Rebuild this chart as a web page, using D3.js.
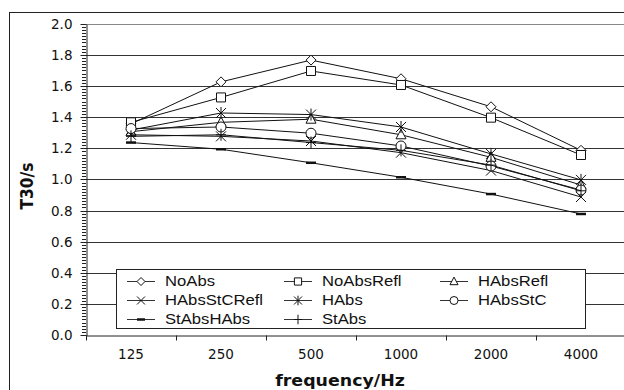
<!DOCTYPE html>
<html><head><meta charset="utf-8">
<script src="https://cdn.jsdelivr.net/npm/d3@7"></script>
<style>
html,body{margin:0;padding:0;background:#fff;}
svg{display:block;}
</style></head>
<body>
<svg id="chart" width="624" height="390"></svg>
<script>
// ---- data ----
const categories = ["125","250","500","1000","2000","4000"];
const seriesNames = ["NoAbs","NoAbsRefl","HAbsRefl","HAbsStCRefl","HAbs","HAbsStC","StAbsHAbs","StAbs"];
const NoAbs       = [1.36,1.63,1.77,1.65,1.47,1.19];
const NoAbsRefl   = [1.37,1.53,1.70,1.61,1.40,1.16];
const HAbsRefl    = [1.31,1.37,1.39,1.29,1.145,0.967];
const HAbsStCRefl = [1.29,1.28,1.25,1.175,1.06,0.89];
const HAbs        = [1.32,1.43,1.42,1.34,1.167,1.00];
const HAbsStC     = [1.33,1.34,1.30,1.218,1.089,0.935];
const StAbsHAbs   = [1.24,1.197,1.11,1.017,0.909,0.781];
const StAbs       = [1.28,1.29,1.24,1.19,1.095,0.93];
const yTicks = [0,0.2,0.4,0.6,0.8,1.0,1.2,1.4,1.6,1.8,2.0];
const xTitle = "frequency/Hz";
const yTitle = "T30/s";

const seriesValues = [NoAbs,NoAbsRefl,HAbsRefl,HAbsStCRefl,HAbs,HAbsStC,StAbsHAbs,StAbs];
const markerTypes = ["diamond","square","triangle","x","asterisk","circle","dash","plus"];

// ---- layout ----
const svg = d3.select("#chart");
const pLeft = 86, pRight = 626, pTop = 24.3, pBottom = 335.5;
const x = d3.scaleBand().domain(categories).range([pLeft, pRight]);
const y = d3.scaleLinear().domain([0, 2]).range([pBottom, pTop]);
const cx = c => x(c) + x.bandwidth() / 2;
const snap = v => Math.round(v - 0.5) + 0.5;

// outer border
svg.append("rect").attr("x", 9.5).attr("y", 12.5).attr("width", 700).attr("height", 500)
  .attr("fill", "none").attr("stroke", "#222").attr("stroke-width", 1);

// gridlines
svg.append("g").selectAll("line").data(yTicks.filter(d => d > 0)).join("line")
  .attr("x1", pLeft).attr("x2", pRight)
  .attr("y1", d => snap(y(d))).attr("y2", d => snap(y(d)))
  .attr("stroke", d => d === 2 ? "#888" : "#333").attr("stroke-width", 1);

// minor ticks on y axis
const minor = d3.range(0, 201, 2).map(d => d / 100);
svg.append("g").selectAll("line").data(minor).join("line")
  .attr("x1", pLeft - 4).attr("x2", pLeft)
  .attr("y1", d => snap(y(d))).attr("y2", d => snap(y(d)))
  .attr("stroke", "#222").attr("stroke-width", 1);

// y axis
const yAxis = svg.append("g").attr("transform", `translate(${snap(pLeft)},0)`)
  .call(d3.axisLeft(y).tickValues(yTicks).tickFormat(d3.format(".1f")).tickSize(6).tickPadding(8).tickSizeOuter(0));
yAxis.select(".domain").attr("stroke", "#222");
yAxis.selectAll(".tick line").attr("stroke", "#222");
yAxis.selectAll(".tick").attr("transform", d => `translate(0,${snap(y(d))})`);
yAxis.selectAll("text").attr("font-family", "DejaVu Sans").attr("font-size", 13.5).attr("fill", "#111");

// x axis
const xAxis = svg.append("g").attr("transform", `translate(0,${snap(pBottom)})`)
  .call(d3.axisBottom(x).tickSize(0).tickPadding(14).tickSizeOuter(0));
xAxis.select(".domain").attr("stroke", "#222");
xAxis.selectAll("text").attr("font-family", "DejaVu Sans").attr("font-size", 13.5).attr("fill", "#111");
// tick marks at category boundaries
svg.append("g").selectAll("line").data(categories).join("line")
  .attr("x1", d => snap(x(d))).attr("x2", d => snap(x(d)))
  .attr("y1", snap(pBottom)).attr("y2", snap(pBottom) + 5)
  .attr("stroke", "#222");

// axis titles
svg.append("text").attr("transform", "translate(340,386) scale(1.16,1)")
  .attr("text-anchor", "middle").attr("font-family", "DejaVu Sans").attr("font-weight", "bold")
  .attr("font-size", 15).attr("fill", "#111").text(xTitle);
svg.append("text").attr("transform", "translate(33,186) rotate(-90) scale(1,1.15)")
  .attr("text-anchor", "middle").attr("font-family", "DejaVu Sans").attr("font-weight", "bold")
  .attr("font-size", 15.5).attr("fill", "#111").text(yTitle);

// marker shapes
function markerPath(type, s) {
  const h = s / 2;
  switch (type) {
    case "diamond": return `M0,${-h}L${h},0L0,${h}L${-h},0Z`;
    case "square": return `M${-h*0.9},${-h*0.9}h${s*0.9}v${s*0.9}h${-s*0.9}Z`;
    case "triangle": return `M0,${-h*1.1}L${h},${h*0.8}L${-h},${h*0.8}Z`;
    case "x": return `M${-h},${-h}L${h},${h}M${-h},${h}L${h},${-h}`;
    case "asterisk": return `M${-h},${-h}L${h},${h}M${-h},${h}L${h},${-h}M0,${-h*1.2}L0,${h*1.2}`;
    case "dash": return `M${-h},0L${h},0`;
    case "plus": return `M${-h},0L${h},0M0,${-h*1.2}L0,${h*1.2}`;
  }
  return "";
}
function drawMarker(g, type, s) {
  if (type === "circle") {
    g.append("circle").attr("r", s / 2).attr("fill", "#fff").attr("stroke", "#111").attr("stroke-width", 1);
  } else {
    const closed = ["diamond","square","triangle"].includes(type);
    g.append("path").attr("d", markerPath(type, s))
      .attr("fill", closed ? "#fff" : "none").attr("stroke", "#111")
      .attr("stroke-width", type === "dash" ? 2.5 : 1);
  }
}

// series
const line = d3.line().x(d => cx(d.c)).y(d => y(d.v));
seriesValues.forEach((vals, i) => {
  const pts = categories.map((c, j) => ({c, v: vals[j]}));
  const g = svg.append("g");
  g.append("path").attr("d", line(pts)).attr("fill", "none").attr("stroke", "#111").attr("stroke-width", 1);
  pts.forEach(p => {
    const mg = g.append("g").attr("transform", `translate(${cx(p.c)},${y(p.v)})`);
    drawMarker(mg, markerTypes[i], 10);
  });
});

// legend
const lg = svg.append("g");
lg.append("rect").attr("x", 116.5).attr("y", 269.5).attr("width", 469).attr("height", 59)
  .attr("fill", "#fff").attr("stroke", "#222").attr("stroke-width", 1);
const colX = [127, 284, 440];
const rowY = [281, 300, 319];
seriesNames.forEach((name, i) => {
  const cxL = colX[i % 3], cyL = rowY[Math.floor(i / 3)];
  lg.append("line").attr("x1", cxL).attr("x2", cxL + 28).attr("y1", cyL + 0.5).attr("y2", cyL + 0.5)
    .attr("stroke", "#333").attr("stroke-width", 1);
  const mg = lg.append("g").attr("transform", `translate(${cxL + 14},${cyL + 0.5})`);
  drawMarker(mg, markerTypes[i], 8);
  lg.append("text").attr("transform", `translate(${cxL + 38},${cyL + 5}) scale(1.19,1)`)
    .attr("font-family", "Liberation Sans").attr("font-size", 14).attr("fill", "#111").text(name);
});
</script>
</body></html>
